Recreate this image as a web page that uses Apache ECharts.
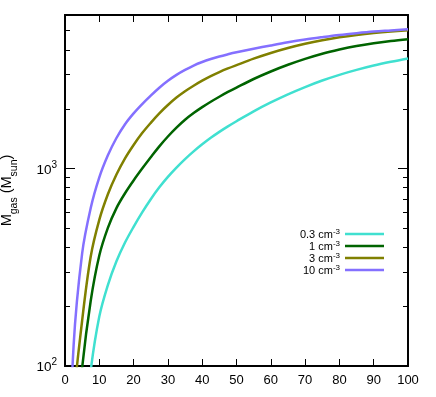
<!DOCTYPE html>
<html>
<head>
<meta charset="utf-8">
<script src="https://cdn.jsdelivr.net/npm/echarts@6/dist/echarts.min.js"></script>
<style>html,body{margin:0;padding:0;background:#fff}#c{width:436px;height:397px}</style>
</head>
<body>
<div id="c"></div>
<script>
// Data
var xs   = [0, 2.5, 5, 7.5, 10, 12.5, 15, 17.5, 20, 22.5, 25, 27.5, 30, 32.5, 35, 37.5, 40, 42.5, 45, 47.5, 50, 55, 60, 65, 70, 75, 80, 85, 90, 95, 100];
var m03  = [1, 10, 36, 95, 178, 257, 339, 422, 507, 600, 700, 804, 908, 1012, 1117, 1222, 1327, 1432, 1535, 1637, 1738, 1950, 2163, 2377, 2588, 2793, 2985, 3162, 3327, 3475, 3614];
var m1   = [3, 32, 98, 214, 363, 501, 631, 750, 871, 1000, 1141, 1296, 1454, 1613, 1768, 1911, 2048, 2182, 2313, 2445, 2575, 2844, 3105, 3357, 3597, 3819, 4009, 4178, 4315, 4426, 4519];
var m3   = [5, 63, 170, 359, 550, 741, 933, 1127, 1318, 1514, 1706, 1905, 2099, 2291, 2466, 2630, 2789, 2941, 3083, 3217, 3344, 3605, 3853, 4082, 4289, 4471, 4628, 4757, 4863, 4948, 5017];
var m10  = [10, 126, 372, 631, 902, 1167, 1429, 1679, 1905, 2123, 2344, 2570, 2786, 2985, 3162, 3327, 3467, 3589, 3698, 3793, 3882, 4046, 4207, 4365, 4508, 4634, 4753, 4853, 4943, 5012, 5082];
var seriesNames = ['0.3 cm-3', '1 cm-3', '3 cm-3', '10 cm-3'];
var legendLabels = ['0.3 cm', '1 cm', '3 cm', '10 cm'];
var colors = ['#40E0D0', '#006400', '#808000', '#8470FF'];
var yMajor = [100, 1000];
var yMinor = [200, 300, 400, 500, 600, 700, 800, 900, 2000, 3000, 4000, 5000, 6000];
var yMin = 100, yMax = 6000;

function pairs(v) { return xs.map(function (x, i) { return [x, v[i]]; }); }
var allVals = [m03, m1, m3, m10];

var FONT = 'Liberation Sans';
var chart = echarts.init(document.getElementById('c'));

function yAxisBase(pos, ticks, len, labels) {
  return {
    type: 'log', logBase: 10, min: yMin, max: yMax, position: pos,
    axisLine: { show: true, onZero: false, lineStyle: { color: '#000', width: 1.8 } },
    axisTick: { show: true, inside: true, length: len, customValues: ticks, lineStyle: { color: '#000', width: 1 } },
    axisLabel: labels ? {
      show: true, customValues: yMajor, margin: 8, fontFamily: FONT, fontSize: 13, color: '#000',
      formatter: function (v) { return '{b|10}{s|' + Math.round(Math.log10(v)) + '}'; },
      rich: {
        b: { fontFamily: FONT, fontSize: 13.5, color: '#000', lineHeight: 17, verticalAlign: 'bottom' },
        s: { fontFamily: FONT, fontSize: 10, color: '#000', lineHeight: 17, verticalAlign: 'top' }
      }
    } : { show: false },
    splitLine: { show: false },
    minorTick: { show: false }
  };
}

var yAxes = [
  yAxisBase('left', yMajor, 10, true),
  yAxisBase('left', yMinor, 5, false),
  yAxisBase('right', yMajor, 10, false),
  yAxisBase('right', yMinor, 5, false)
];
yAxes[0].name = '{m|M}{sb|gas}{m| (M}{sb|sun}{m|)}';
yAxes[0].nameLocation = 'middle';
yAxes[0].nameGap = 45;
yAxes[0].nameRotate = 90;
yAxes[0].nameTextStyle = {
  rich: {
    m: { fontFamily: FONT, fontSize: 14.5, color: '#000', lineHeight: 21, verticalAlign: 'top' },
    sb: { fontFamily: FONT, fontSize: 10.5, color: '#000', lineHeight: 21, verticalAlign: 'bottom' }
  }
};

function xAxisBase(pos, labels) {
  return {
    type: 'value', min: 0, max: 100, interval: 10, position: pos,
    axisLine: { show: true, onZero: false, lineStyle: { color: '#000', width: 1.8 } },
    axisTick: { show: true, inside: true, length: 7, lineStyle: { color: '#000', width: 1 } },
    axisLabel: labels ? { show: true, margin: 8, fontFamily: FONT, fontSize: 13, color: '#000' } : { show: false },
    splitLine: { show: false }
  };
}

var series = seriesNames.map(function (n, i) {
  return {
    name: n, type: 'line', data: pairs(allVals[i]), xAxisIndex: 0, yAxisIndex: 0,
    symbol: 'none', smooth: 0.35, clip: true,
    lineStyle: { color: colors[i], width: 2.5 }, itemStyle: { color: colors[i] },
    z: 2 + i
  };
});

chart.setOption({
  animation: false,
  backgroundColor: '#fff',
  grid: { left: 65, right: 28, top: 15, bottom: 31, containLabel: false, outerBoundsMode: 'none' },
  xAxis: [xAxisBase('bottom', true), xAxisBase('top', false)],
  yAxis: yAxes,
  legend: {
    orient: 'vertical', align: 'right', right: 52, top: 228, padding: 0,
    itemWidth: 39, itemHeight: 12, itemGap: 0,
    icon: 'path://M0,5 L39,5 L39,7.5 L0,7.5 Z',
    data: seriesNames,
    formatter: function (n) {
      var i = seriesNames.indexOf(n);
      return '{t|' + legendLabels[i] + '}{s|-3}';
    },
    textStyle: {
      fontFamily: FONT, fontSize: 11, color: '#000',
      rich: {
        t: { fontFamily: FONT, fontSize: 11, color: '#000', lineHeight: 12, verticalAlign: 'bottom' },
        s: { fontFamily: FONT, fontSize: 8, color: '#000', lineHeight: 12, verticalAlign: 'top' }
      }
    }
  },
  series: series
});
</script>
</body>
</html>
